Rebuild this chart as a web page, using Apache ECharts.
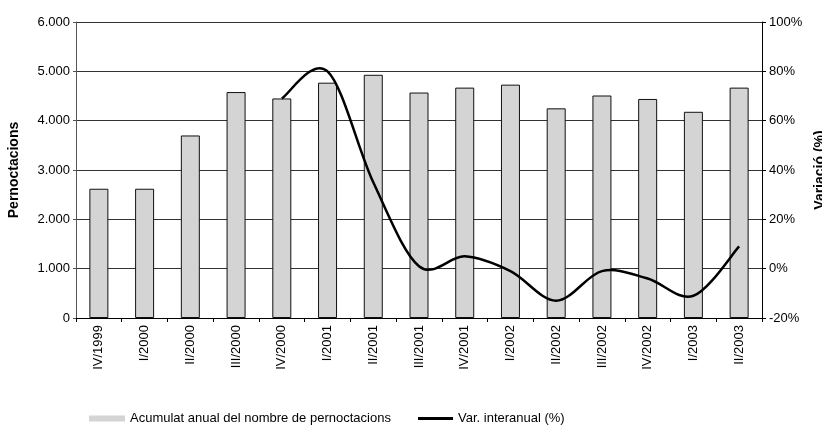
<!DOCTYPE html>
<html>
<head>
<meta charset="utf-8">
<script src="https://cdn.jsdelivr.net/npm/echarts@6/dist/echarts.min.js"></script>
<style>
html,body{margin:0;padding:0;background:#fff;}
#c{width:822px;height:425px;}
</style>
</head>
<body>
<div id="c"></div>
<script>
const categories = ['IV/1999','I/2000','II/2000','III/2000','IV/2000','I/2001','II/2001','III/2001','IV/2001','I/2002','II/2002','III/2002','IV/2002','I/2003','II/2003'];
const pernoctacions = [2620, 2620, 3700, 4580, 4450, 4770, 4930, 4570, 4670, 4730, 4250, 4510, 4440, 4180, 4670];
const variacio = [null, null, null, null, 69, 80, 35, 1, 5, -1, -13, -1, -4, -11, 9];
const barName = 'Acumulat anual del nombre de pernoctacions';
const lineName = 'Var. interanual (%)';

const lineData = [];
variacio.forEach((v, i) => { if (v !== null) lineData.push([i, v]); });

const FONT = '"Liberation Sans", Arial, sans-serif';
const chart = echarts.init(document.getElementById('c'), null, {renderer:'canvas'});

function renderSmooth(params, api) {
  if (params.dataIndex !== 0) return null;
  const pts = lineData.map(d => api.coord([d[0], d[1]]));
  let path = 'M' + pts[0][0] + ' ' + pts[0][1];
  for (let i = 0; i < pts.length - 1; i++) {
    const p0 = pts[Math.max(0, i - 1)], p1 = pts[i], p2 = pts[i + 1], p3 = pts[Math.min(pts.length - 1, i + 2)];
    const c1x = p1[0] + (p2[0] - p0[0]) / 6, c1y = p1[1] + (p2[1] - p0[1]) / 6;
    const c2x = p2[0] - (p3[0] - p1[0]) / 6, c2y = p2[1] - (p3[1] - p1[1]) / 6;
    path += ' C' + c1x + ' ' + c1y + ' ' + c2x + ' ' + c2y + ' ' + p2[0] + ' ' + p2[1];
  }
  return {
    type: 'path',
    shape: {pathData: path},
    style: {fill: 'none', stroke: '#000', lineWidth: 2.5, lineJoin: 'round', lineCap: 'butt'}
  };
}

chart.setOption({
  animation: false,
  backgroundColor: '#fff',
  textStyle: {fontFamily: FONT, color: '#000'},
  grid: {left: 76, right: 60, top: 22, height: 296, containLabel: false, outerBoundsMode: 'none'},
  legend: [
    {data: [{name: barName, icon: 'rect', itemStyle: {color: '#d4d4d4', borderWidth: 0}}],
     left: 89, top: 412, padding: 0, itemWidth: 36, itemHeight: 6,
     textStyle: {fontFamily: FONT, fontSize: 13, color: '#000'}},
    {data: [{name: lineName, icon: 'rect', itemStyle: {color: '#000', borderWidth: 0}}],
     left: 418, top: 412, padding: 0, itemWidth: 35, itemHeight: 3,
     textStyle: {fontFamily: FONT, fontSize: 13, color: '#000'}}
  ],
  xAxis: {
    type: 'category', data: categories, boundaryGap: true,
    axisLine: {lineStyle: {color: '#000', width: 1}},
    axisTick: {show: true, interval: 0, length: 4, lineStyle: {color: '#000'}},
    axisLabel: {rotate: 90, interval: 0, margin: 7, fontSize: 13, color: '#000', fontFamily: FONT}
  },
  yAxis: [
    {
      type: 'value', min: 0, max: 6000, interval: 1000, position: 'left',
      name: 'Pernoctacions', nameLocation: 'middle', nameRotate: 90, nameGap: 55,
      nameTextStyle: {fontFamily: FONT, fontSize: 14, fontWeight: 'bold', color: '#000'},
      axisLine: {show: true, lineStyle: {color: '#555', width: 1}},
      axisTick: {show: true, length: 3, lineStyle: {color: '#555'}},
      axisLabel: {margin: 6, fontSize: 13, color: '#000', fontFamily: FONT,
        formatter: v => v === 0 ? '0' : String(v).replace(/\B(?=(\d{3})+(?!\d))/g, '.')},
      splitLine: {show: true, lineStyle: {color: '#333', width: 1}}
    },
    {
      type: 'value', min: -20, max: 100, interval: 20, position: 'right',
      name: 'Variació (%)', nameLocation: 'middle', nameRotate: 90, nameGap: 43,
      nameTextStyle: {fontFamily: FONT, fontSize: 14, fontWeight: 'bold', color: '#000'},
      axisLine: {show: true, lineStyle: {color: '#000', width: 1}},
      axisTick: {show: true, length: 4, lineStyle: {color: '#000'}},
      axisLabel: {margin: 7, fontSize: 13, color: '#000', fontFamily: FONT, formatter: '{value}%'},
      splitLine: {show: false}
    }
  ],
  series: [
    {
      name: barName, type: 'bar', data: pernoctacions, barWidth: 19, yAxisIndex: 0,
      itemStyle: {color: '#d4d4d4', borderColor: '#111', borderWidth: 1}
    },
    {
      name: lineName, type: 'custom', data: lineData, yAxisIndex: 1,
      encode: {x: 0, y: 1}, renderItem: renderSmooth,
      itemStyle: {color: '#000'}, z: 3
    }
  ]
});
</script>
</body>
</html>
